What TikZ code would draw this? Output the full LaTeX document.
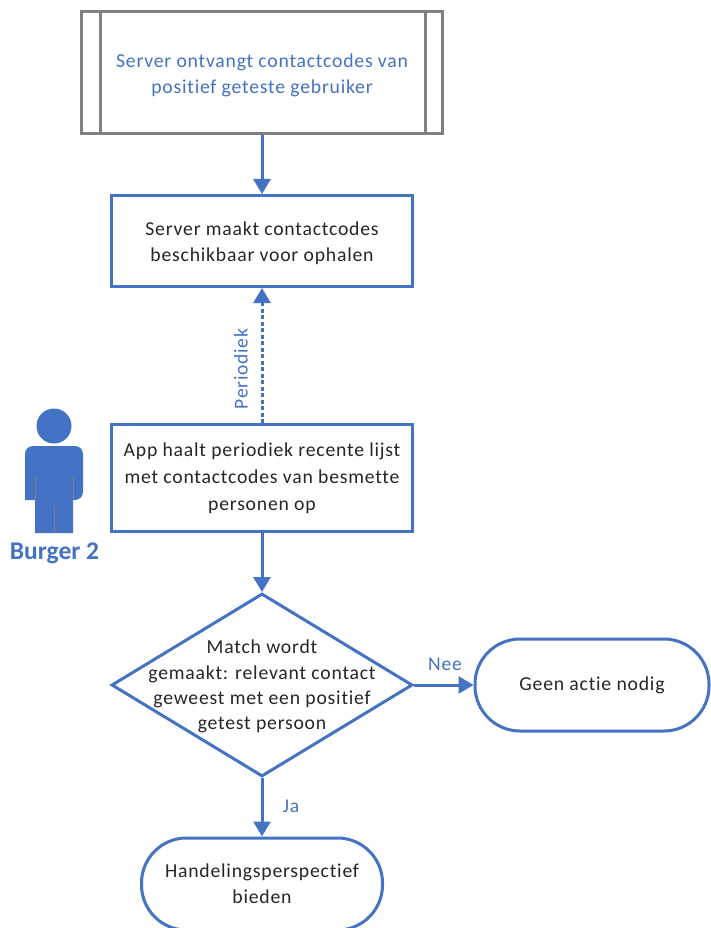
\documentclass[tikz,border=0pt]{standalone}
\usepackage{fontspec}
\setmainfont{Carlito}
\newfontfamily\spfont[LetterSpace=4,Ligatures=NoCommon]{Carlito}
\usetikzlibrary{arrows.meta,shapes.geometric}
\definecolor{bl}{HTML}{4472C4}
\definecolor{gr}{HTML}{7F7F7F}
\definecolor{tx}{HTML}{262626}
\newcommand\dnstrut{\rule{0pt}{18.5pt}}
\tikzset{x=1pt,y=-1pt,
 box/.style={draw=bl,line width=3pt,fill=white,align=center,text=tx,font=\spfont\fontsize{19.7}{26}\selectfont,inner sep=0pt},
 term/.style={box,rounded corners=45pt},
 arr/.style={draw=bl,line width=3pt,-{Triangle[length=15pt,width=17pt]}},
 lab/.style={text=bl,font=\spfont\fontsize{19.5}{22}\selectfont,inner sep=0pt}}
\begin{document}
\begin{tikzpicture}
\useasboundingbox (0,0) rectangle (710,928);
\node[box,draw=gr,minimum width=361pt,minimum height=122pt,text=bl] (a) at (262,73) {\dnstrut Server ontvangt contactcodes van\\positief geteste gebruiker};
\draw[gr,line width=3pt] (100,12)--(100,134) (425,12)--(425,134);
\node[box,minimum width=301pt,minimum height=91pt] (b) at (262,241) {\dnstrut Server maakt contactcodes\\beschikbaar voor ophalen};
\node[box,minimum width=301pt,minimum height=107pt] (c) at (262,478) {App haalt periodiek recente lijst\\[1pt]met contactcodes van besmette\\[1pt]personen op};
\node[box,diamond,shape aspect=1.65,minimum width=301pt,minimum height=183pt] (d) at (262,685) {};
\node[align=center,text=tx,font=\spfont\fontsize{19.7}{25.3}\selectfont,inner sep=0pt] (dt) at (262,686.5) {Match wordt\\gemaakt: relevant contact\\geweest met een positief\\getest persoon};
\node[term,minimum width=234pt,minimum height=92pt] (e) at (592,685) {Geen actie nodig};
\node[term,minimum width=241pt,minimum height=92pt] (f) at (262,884) {Handelingsperspectief\\bieden};
\draw[arr] (a)--(b);
\draw[arr,dash pattern=on 4pt off 2.5pt] (c)--(b);
\draw[arr] (c)--(d);
\draw[arr] (d)--(e);
\draw[arr] (d)--(f);
\node[lab,rotate=90] (p) at (241,369) {Periodiek};
\node[lab] (n) at (445,664) {Nee};
\node[lab] (j) at (291,806) {Ja};
\fill[bl] (54,426) circle (17.5pt);
\fill[bl,rounded corners=8pt] (25,500)--(25,446)--(83,446)--(83,500)[sharp corners]--(73,500)--(73,533)--(35,533)--(35,500)--cycle;
\draw[gr,line width=.9pt] (35,477)--(35,500) (73,477)--(73,500) (54,506)--(54,533);
\node[font=\bfseries\fontsize{25.5}{28}\selectfont,text=bl,inner sep=0pt] (u) at (54.5,553) {Burger 2};
\end{tikzpicture}
\end{document}
